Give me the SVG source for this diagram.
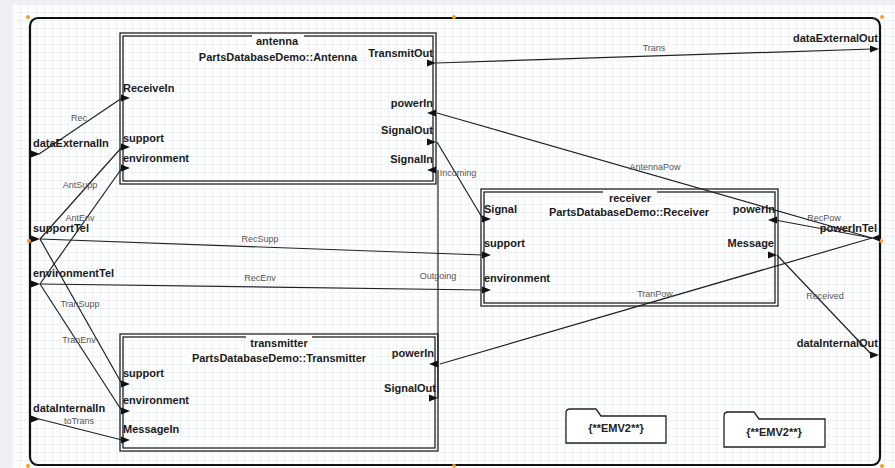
<svg xmlns="http://www.w3.org/2000/svg" xmlns:xlink="http://www.w3.org/1999/xlink" width="895" height="468" viewBox="0 0 895 468">
<defs>
<pattern id="grid" x="12" y="4" width="8" height="8" patternUnits="userSpaceOnUse">
<path d="M8,0 L0,0 L0,8" fill="none" stroke="#dfe5ee" stroke-width="1"/>
</pattern>
<path id="pr" d="M0,-3.5 L9,0 L0,3.5 Z"/>
<path id="pl" d="M9,-3.5 L0,0 L9,3.5 Z"/>
</defs>
<style>
.port{font-family:"Liberation Sans",Arial,sans-serif;font-weight:bold;font-size:11px;fill:#1a1a1a}
.title{font-family:"Liberation Sans",Arial,sans-serif;font-weight:bold;font-size:11px;fill:#1a1a1a;text-anchor:middle}
.end{text-anchor:end}
.lbl{font-family:"Liberation Sans",Arial,sans-serif;font-size:9px;fill:#555;text-anchor:middle}
.box{fill:none;stroke:#222;stroke-width:1.3}
.conn{fill:none;stroke:#222;stroke-width:1.2}
.dot{fill:#f0a030}
.emv{fill:#fff;stroke:#222;stroke-width:1.3}
.emvt{font-family:"Liberation Sans",Arial,sans-serif;font-weight:bold;font-size:11px;fill:#222;text-anchor:middle}
use{fill:#111}
</style>
<rect x="0" y="0" width="895" height="468" fill="#ffffff"/>
<rect x="12" y="4" width="883" height="464" fill="url(#grid)"/>
<rect x="0" y="0" width="12" height="468" fill="#eef0f3"/>
<rect x="0" y="0" width="895" height="4" fill="#eef0f3"/>

<g id="system">
<rect x="30" y="18" width="850" height="447" rx="8" fill="none" stroke="#111" stroke-width="2.2"/>
<circle class="dot" cx="28" cy="17" r="2"/>
<circle class="dot" cx="454" cy="17" r="2"/>
<circle class="dot" cx="882" cy="17" r="2"/>
<circle class="dot" cx="29" cy="241" r="2"/>
<circle class="dot" cx="881" cy="241" r="2"/>
<circle class="dot" cx="28" cy="466" r="2"/>
<circle class="dot" cx="454" cy="466" r="2"/>
<circle class="dot" cx="882" cy="466" r="2"/>
<text class="port" x="33" y="147">dataExternalIn</text>
<use href="#pr" x="31" y="154"/>
<text class="port" x="33" y="232">supportTel</text>
<use href="#pr" x="31" y="239"/>
<text class="port" x="33" y="277">environmentTel</text>
<use href="#pr" x="31" y="284"/>
<text class="port" x="33" y="412">dataInternalIn</text>
<use href="#pr" x="31" y="419"/>
<text class="port end" x="878" y="42">dataExternalOut</text>
<use href="#pr" x="870" y="49"/>
<text class="port end" x="877" y="232">powerInTel</text>
<use href="#pl" x="871" y="238"/>
<text class="port end" x="878" y="347">dataInternalOut</text>
<use href="#pr" x="870" y="355"/>
</g>

<g id="antenna">
<rect class="box" x="120" y="33" width="316" height="151"/>
<rect class="box" x="123" y="36" width="310" height="145"/>
<rect x="252" y="35" width="52" height="13" fill="#fff"/>
<rect x="195" y="50" width="166" height="13" fill="#fff"/>
<text class="title" x="277" y="45">antenna</text>
<text class="title" x="278" y="61">PartsDatabaseDemo::Antenna</text>
<text class="port" x="123" y="92">ReceiveIn</text>
<use href="#pr" x="121" y="98"/>
<text class="port" x="123" y="142">support</text>
<use href="#pr" x="121" y="147"/>
<text class="port" x="123" y="162">environment</text>
<use href="#pr" x="121" y="168"/>
<text class="port end" x="433" y="57">TransmitOut</text>
<use href="#pr" x="427" y="63"/>
<text class="port end" x="433" y="107">powerIn</text>
<use href="#pl" x="427" y="113"/>
<text class="port end" x="433" y="134">SignalOut</text>
<use href="#pr" x="427" y="142"/>
<text class="port end" x="433" y="163">SignalIn</text>
<use href="#pl" x="427" y="170"/>
</g>

<g id="receiver">
<rect class="box" x="481" y="189" width="297" height="117"/>
<rect class="box" x="484" y="192" width="291" height="111"/>
<rect x="603" y="191" width="54" height="13" fill="#fff"/>
<rect x="546" y="205" width="166" height="13" fill="#fff"/>
<text class="title" x="630" y="202">receiver</text>
<text class="title" x="629" y="216">PartsDatabaseDemo::Receiver</text>
<text class="port" x="484" y="213">Signal</text>
<use href="#pr" x="482" y="219"/>
<text class="port" x="484" y="247">support</text>
<use href="#pr" x="482" y="255"/>
<text class="port" x="484" y="282">environment</text>
<use href="#pr" x="482" y="290"/>
<text class="port end" x="775" y="213">powerIn</text>
<use href="#pl" x="768" y="220"/>
<text class="port end" x="774" y="247">Message</text>
<use href="#pr" x="768" y="255"/>
</g>

<g id="transmitter">
<rect class="box" x="120" y="334" width="318" height="117"/>
<rect class="box" x="123" y="337" width="312" height="111"/>
<rect x="246" y="336" width="66" height="13" fill="#fff"/>
<rect x="188" y="351" width="182" height="13" fill="#fff"/>
<text class="title" x="279" y="347">transmitter</text>
<text class="title" x="279" y="362">PartsDatabaseDemo::Transmitter</text>
<text class="port" x="123" y="377">support</text>
<use href="#pr" x="121" y="384"/>
<text class="port" x="123" y="404">environment</text>
<use href="#pr" x="121" y="411"/>
<text class="port" x="123" y="433">MessageIn</text>
<use href="#pr" x="121" y="440"/>
<text class="port end" x="434" y="357">powerIn</text>
<use href="#pl" x="429" y="364"/>
<text class="port end" x="436" y="392">SignalOut</text>
<use href="#pr" x="429" y="398"/>
</g>

<g id="emv2a">
<path class="emv" d="M566,443 L566,413 Q566,409 570,409 L596,409 L601,416 L666,416 L666,443 Z"/>
<text class="emvt" x="616" y="432">{**EMV2**}</text>
</g>
<g id="emv2b">
<path class="emv" d="M724,447 L724,416 Q724,412 728,412 L754,412 L759,419 L825,419 L825,447 Z"/>
<text class="emvt" x="774" y="436">{**EMV2**}</text>
</g>

<g id="connectors">
<line class="conn" x1="39" y1="154" x2="122" y2="98"/>
<line class="conn" x1="40" y1="239" x2="122" y2="147"/>
<line class="conn" x1="40" y1="284" x2="122" y2="168"/>
<line class="conn" x1="40" y1="239" x2="122" y2="384"/>
<line class="conn" x1="40" y1="284" x2="122" y2="411"/>
<line class="conn" x1="39" y1="419" x2="122" y2="440"/>
<line class="conn" x1="40" y1="239" x2="483" y2="255"/>
<line class="conn" x1="40" y1="284" x2="483" y2="290"/>
<line class="conn" x1="436" y1="63" x2="872" y2="49"/>
<line class="conn" x1="872" y1="238" x2="437" y2="113"/>
<line class="conn" x1="872" y1="238" x2="775" y2="220"/>
<line class="conn" x1="872" y1="238" x2="440" y2="364"/>
<line class="conn" x1="777" y1="255" x2="872" y2="355"/>
<line class="conn" x1="437" y1="142" x2="483" y2="219"/>
<line class="conn" x1="438" y1="398" x2="438" y2="170"/>
<text class="lbl" x="79" y="121">Rec</text>
<text class="lbl" x="80" y="188">AntSupp</text>
<text class="lbl" x="80" y="221">AntEnv</text>
<text class="lbl" x="80" y="307">TranSupp</text>
<text class="lbl" x="79" y="343">TranEnv</text>
<text class="lbl" x="79" y="424">toTrans</text>
<text class="lbl" x="260" y="242">RecSupp</text>
<text class="lbl" x="260" y="281">RecEnv</text>
<text class="lbl" x="654" y="51">Trans</text>
<text class="lbl" x="458" y="176">Incoming</text>
<text class="lbl" x="655" y="170">AntennaPow</text>
<text class="lbl" x="824" y="221">RecPow</text>
<text class="lbl" x="655" y="297">TranPow</text>
<text class="lbl" x="825" y="299">Received</text>
<text class="lbl" x="438" y="279">Outgoing</text>
</g>
</svg>
